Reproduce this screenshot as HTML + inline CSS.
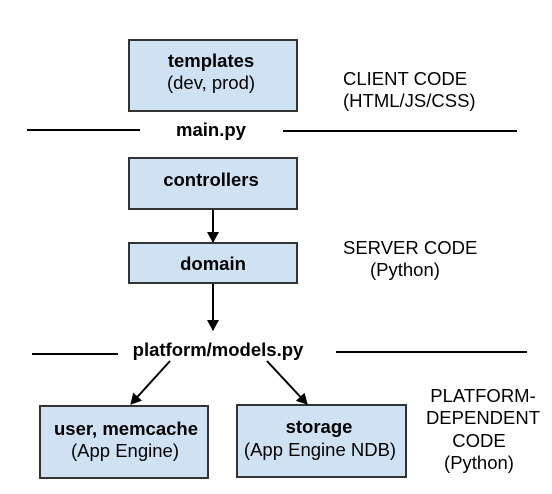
<!DOCTYPE html>
<html><head><meta charset="utf-8"><style>
html,body{margin:0;padding:0;background:#fff;}
svg{display:block;}
text{font-family:"Liberation Sans",Arial,sans-serif;font-size:18.5px;fill:#000;}
.b{font-weight:bold;}
</style></head><body>
<svg width="552" height="494" viewBox="0 0 552 494" xmlns="http://www.w3.org/2000/svg">
<defs><marker id="a" markerWidth="11" markerHeight="12" refX="10" refY="6" orient="auto" markerUnits="userSpaceOnUse"><path d="M0,0 L11,6 L0,12 z" fill="#000"/></marker></defs>
<g fill="#cfe2f3" stroke="#333" stroke-width="2">
<rect x="129" y="40" width="168" height="71"/>
<rect x="129" y="158" width="168" height="51"/>
<rect x="129" y="243" width="168" height="40"/>
<rect x="40" y="406" width="168" height="72"/>
<rect x="237" y="405" width="169" height="72"/>
</g>
<g stroke="#000" stroke-width="2">
<line x1="27" y1="130" x2="140" y2="130"/>
<line x1="283" y1="131" x2="517" y2="131"/>
<line x1="32" y1="354" x2="118" y2="354"/>
<line x1="336" y1="352" x2="527" y2="352"/>
<line x1="213" y1="210" x2="213" y2="242" marker-end="url(#a)"/>
<line x1="213" y1="284" x2="213" y2="330" marker-end="url(#a)"/>
<line x1="170" y1="361" x2="131" y2="404" marker-end="url(#a)"/>
<line x1="267" y1="361" x2="307" y2="404" marker-end="url(#a)"/>
</g>
<g text-anchor="middle">
<text x="211" y="67" class="b">templates</text>
<text x="211" y="89">(dev, prod)</text>
<text x="211" y="136" class="b">main.py</text>
<text x="211" y="186" class="b">controllers</text>
<text x="213" y="270" class="b">domain</text>
<text x="218" y="356" class="b">platform/models.py</text>
<text x="126" y="435" class="b">user, memcache</text>
<text x="125" y="457">(App Engine)</text>
<text x="319" y="433" class="b">storage</text>
<text x="320" y="456">(App Engine NDB)</text>
<text x="483" y="402">PLATFORM-</text>
<text x="483" y="424">DEPENDENT</text>
<text x="479" y="447">CODE</text>
<text x="479" y="469">(Python)</text>
</g>
<text x="343" y="85">CLIENT CODE</text>
<text x="343" y="107">(HTML/JS/CSS)</text>
<text x="343" y="254">SERVER CODE</text>
<text x="370" y="276">(Python)</text>
</svg>
</body></html>
